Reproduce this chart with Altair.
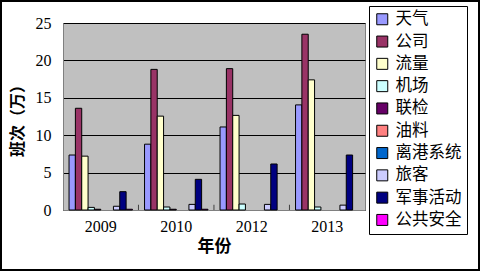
import altair as alt
import pandas as pd

years = ["2009", "2010", "2012", "2013"]
series = ["天气", "公司", "流量", "机场", "联检", "油料", "离港系统", "旅客", "军事活动", "公共安全"]
colors = ["#9999FF", "#993366", "#FFFFCC", "#CCFFFF", "#660066", "#FF8080", "#0066CC", "#CCCCFF", "#000080", "#FF00FF"]

v_tianqi = [7.35, 8.8, 11.1, 14.05]
v_gongsi = [13.6, 18.8, 18.9, 23.5]
v_liuliang = [7.2, 12.55, 12.65, 17.4]
v_jichang = [0.35, 0.4, 0.8, 0.4]
v_lianjian = [0.1, 0.1, 0.0, 0.0]
v_youliao = [0.0, 0.0, 0.0, 0.0]
v_ligang = [0.0, 0.0, 0.0, 0.0]
v_lvke = [0.5, 0.75, 0.75, 0.65]
v_junshi = [2.45, 4.1, 6.15, 7.35]
v_gonggong = [0.1, 0.1, 0.0, 0.0]

all_vals = [v_tianqi, v_gongsi, v_liuliang, v_jichang, v_lianjian, v_youliao,
            v_ligang, v_lvke, v_junshi, v_gonggong]

rows = []
for s, vals in zip(series, all_vals):
    for y, v in zip(years, vals):
        rows.append({"year": y, "series": s, "value": v})
df = pd.DataFrame(rows)

tick_years = years[:-1]
tick_df = pd.DataFrame({"year": tick_years, "value": [0] * len(tick_years), "y1": [0.7] * len(tick_years)})

CJK = "Noto Sans CJK SC"
NUM = "Liberation Serif"

W, H = 302, 187
PL, PT = 63, 23
PR = 480 - PL - W
PB = 271 - PT - H

xscale = alt.Scale(domain=years, paddingInner=0.16, paddingOuter=0.08)
yscale = alt.Scale(domain=[0, 25])

x_axis = alt.Axis(title="年份", labelAngle=0, labelFont=NUM, labelFontSize=16,
                  labelColor="black", titleFont=CJK, titleFontSize=17,
                  titleFontWeight="bold", titleColor="black", ticks=False,
                  domainColor="#808080", labelPadding=8, titlePadding=4)
y_axis = alt.Axis(title="班次（万）", values=[0, 5, 10, 15, 20, 25],
                  labelFont=NUM, labelFontSize=16, labelColor="black",
                  titleFont=CJK, titleFontSize=16, titleFontWeight="bold",
                  titleColor="black", gridColor="black", gridWidth=1,
                  ticks=False, domainColor="#808080", labelPadding=12,
                  titlePadding=10)

bars = alt.Chart(df).transform_filter("datum.value > 0").mark_bar(
    stroke="black", strokeWidth=1
).encode(
    x=alt.X("year:N", sort=years, scale=xscale, axis=x_axis),
    xOffset=alt.XOffset("series:N", sort=series,
                        scale=alt.Scale(domain=series, paddingInner=0, paddingOuter=0)),
    y=alt.Y("value:Q", scale=yscale, axis=y_axis),
    color=alt.Color("series:N", sort=series,
                    scale=alt.Scale(domain=series, range=colors),
                    legend=alt.Legend(title=None, orient="none", legendX=W + 4, legendY=-17,
                                      symbolType="square", symbolSize=121,
                                      symbolStrokeColor="black", symbolStrokeWidth=1,
                                      labelFont=CJK, labelFontSize=16.5, labelColor="black",
                                      rowPadding=5.3, padding=5, strokeColor="black",
                                      fillColor="white", labelLimit=200, labelOffset=5,
                                      symbolOpacity=1)),
)

ticks = alt.Chart(tick_df).mark_rule(color="#404040", strokeWidth=1, xOffset=6).encode(
    x=alt.X("year:N", sort=years, scale=xscale, bandPosition=1, axis=x_axis),
    y=alt.Y("value:Q", scale=yscale, axis=y_axis),
    y2="y1:Q",
)

border = alt.Chart(pd.DataFrame({"a": [0]})).mark_rect(
    fill=None, stroke="black", strokeWidth=2
).encode(
    x=alt.value(-PL + 1), x2=alt.value(W + PR - 1),
    y=alt.value(-PT + 1), y2=alt.value(H + PB - 1),
)

chart = alt.layer(bars, ticks, border).properties(
    width=W, height=H,
    autosize=alt.AutoSizeParams(type="none"),
    padding={"left": PL, "top": PT, "right": PR, "bottom": PB},
    background="white",
).configure_view(
    fill="#C0C0C0", stroke="#808080", strokeWidth=1
)

chart.save("out.html", embed_options={"renderer": "svg", "actions": False})
